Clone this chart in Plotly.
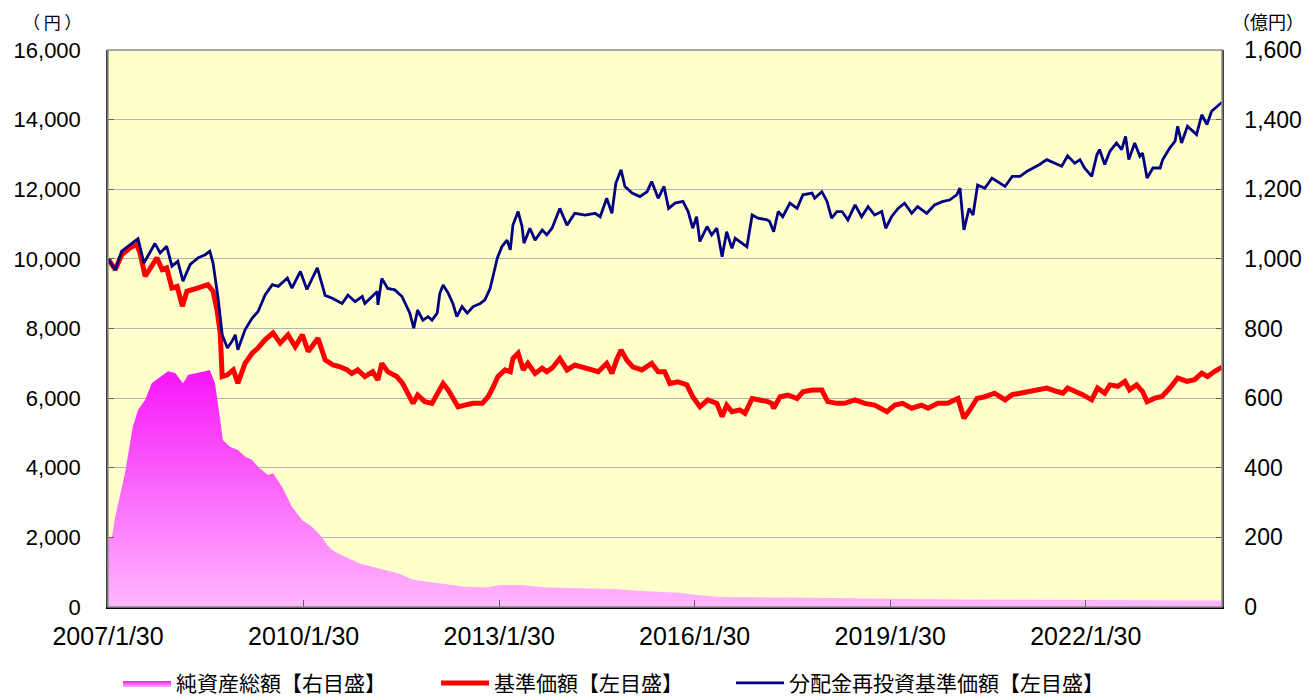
import plotly.graph_objects as go
import pandas as pd

# ---- data (dates as decimal years) ----
blue_t = [2007.08, 2007.19, 2007.29, 2007.42, 2007.54, 2007.63, 2007.69, 2007.80, 2007.88, 2007.98,
          2008.06, 2008.15, 2008.23, 2008.34, 2008.46, 2008.57, 2008.64, 2008.69, 2008.77, 2008.83,
          2008.91, 2008.98, 2009.03, 2009.07, 2009.18, 2009.29, 2009.38, 2009.49, 2009.60, 2009.69,
          2009.83, 2009.90, 2010.03, 2010.13, 2010.29, 2010.41, 2010.52, 2010.67, 2010.76, 2010.87,
          2010.98, 2011.02, 2011.13, 2011.21, 2011.22, 2011.28, 2011.37, 2011.48, 2011.59, 2011.67,
          2011.71, 2011.77, 2011.83, 2011.91, 2011.99, 2012.05, 2012.13, 2012.17, 2012.22, 2012.30,
          2012.37, 2012.43, 2012.51, 2012.59, 2012.68, 2012.79, 2012.86, 2012.94, 2012.99, 2013.05,
          2013.12, 2013.20, 2013.25, 2013.29, 2013.37, 2013.43, 2013.46, 2013.55, 2013.63, 2013.74,
          2013.81, 2013.89, 2014.01, 2014.12, 2014.24, 2014.40, 2014.55, 2014.63, 2014.73, 2014.81,
          2014.87, 2014.95, 2015.01, 2015.12, 2015.24, 2015.35, 2015.42, 2015.52, 2015.61, 2015.68,
          2015.78, 2015.90, 2015.98, 2016.05, 2016.11, 2016.16, 2016.27, 2016.34, 2016.42, 2016.50,
          2016.57, 2016.65, 2016.70, 2016.80, 2016.88, 2016.96, 2017.05, 2017.19, 2017.23, 2017.29,
          2017.36, 2017.43, 2017.54, 2017.65, 2017.74, 2017.88, 2017.92, 2018.03, 2018.11, 2018.18,
          2018.26, 2018.34, 2018.43, 2018.54, 2018.64, 2018.74, 2018.84, 2018.95, 2019.01, 2019.10,
          2019.20, 2019.30, 2019.41, 2019.50, 2019.64, 2019.76, 2019.89, 2019.99, 2020.10, 2020.15,
          2020.21, 2020.29, 2020.35, 2020.42, 2020.53, 2020.64, 2020.72, 2020.84, 2020.95, 2021.07,
          2021.18, 2021.27, 2021.37, 2021.48, 2021.60, 2021.71, 2021.80, 2021.91, 2021.99, 2022.06,
          2022.17, 2022.25, 2022.29, 2022.37, 2022.45, 2022.55, 2022.63, 2022.69, 2022.74, 2022.83,
          2022.91, 2022.95, 2023.02, 2023.11, 2023.22, 2023.26, 2023.37, 2023.45, 2023.49, 2023.55,
          2023.64, 2023.78, 2023.86, 2023.94, 2024.01, 2024.09, 2024.17]
blue_v = [10000, 9690, 10220, 10410, 10580, 9880, 10080, 10440, 10170, 10360,
          9790, 9930, 9360, 9840, 10030, 10120, 10220, 9880, 8830, 7820,
          7440, 7630, 7820, 7390, 7960, 8300, 8490, 8970, 9260, 9210,
          9450, 9160, 9640, 9120, 9740, 8950, 8870, 8720, 8960, 8770,
          8920, 8720, 8920, 9060, 8680, 9440, 9150, 9110, 8920, 8580,
          8440, 8010, 8530, 8240, 8340, 8240, 8440, 9010, 9250, 9010,
          8720, 8340, 8630, 8440, 8630, 8720, 8820, 9150, 9590, 10020,
          10350, 10540, 10260, 10970, 11360, 10930, 10450, 10880, 10540, 10830,
          10690, 10880, 11450, 10970, 11310, 11260, 11310, 11210, 11740, 11310,
          12170, 12560, 12080, 11890, 11790, 11930, 12220, 11740, 12080, 11450,
          11600, 11650, 11360, 10880, 11210, 10500, 10930, 10690, 10880, 10060,
          10780, 10300, 10590, 10450, 10350, 11260, 11170, 11120, 11070, 10780,
          11360, 11210, 11600, 11450, 11840, 11890, 11740, 11930, 11650, 11170,
          11360, 11360, 11120, 11550, 11210, 11500, 11260, 11360, 10880, 11210,
          11450, 11600, 11310, 11500, 11310, 11550, 11650, 11690, 11840, 12030,
          10830, 11450, 11260, 12120, 12030, 12320, 12230, 12080, 12370, 12370,
          12520, 12610, 12710, 12850, 12750, 12660, 12960, 12750, 12850, 12610,
          12370, 12990, 13140, 12710, 13090, 13330, 13140, 13520, 12850, 13330,
          12950, 13040, 12320, 12610, 12610, 12850, 13190, 13380, 13810, 13330,
          13810, 13570, 14140, 13860, 14240, 14380, 14500]

red_t = [2007.08, 2007.19, 2007.29, 2007.42, 2007.52, 2007.57, 2007.65, 2007.77, 2007.83, 2007.91,
         2007.98, 2008.06, 2008.14, 2008.22, 2008.29, 2008.38, 2008.52, 2008.61, 2008.69, 2008.75,
         2008.80, 2008.83, 2008.91, 2009.00, 2009.07, 2009.18, 2009.29, 2009.38, 2009.49, 2009.61,
         2009.72, 2009.84, 2009.95, 2010.06, 2010.15, 2010.30, 2010.41, 2010.53, 2010.64, 2010.75,
         2010.82, 2010.91, 2011.02, 2011.14, 2011.22, 2011.28, 2011.37, 2011.51, 2011.60, 2011.68,
         2011.76, 2011.83, 2011.94, 2012.05, 2012.14, 2012.22, 2012.30, 2012.37, 2012.45, 2012.55,
         2012.68, 2012.82, 2012.91, 2012.99, 2013.06, 2013.17, 2013.25, 2013.29, 2013.37, 2013.45,
         2013.52, 2013.63, 2013.74, 2013.81, 2013.89, 2014.01, 2014.12, 2014.24, 2014.40, 2014.60,
         2014.73, 2014.81, 2014.89, 2014.95, 2015.04, 2015.13, 2015.27, 2015.42, 2015.52, 2015.62,
         2015.70, 2015.82, 2015.96, 2016.05, 2016.16, 2016.28, 2016.42, 2016.50, 2016.57, 2016.65,
         2016.77, 2016.85, 2016.96, 2017.08, 2017.20, 2017.26, 2017.29, 2017.39, 2017.51, 2017.65,
         2017.74, 2017.88, 2018.03, 2018.12, 2018.26, 2018.38, 2018.54, 2018.69, 2018.84, 2019.03,
         2019.15, 2019.27, 2019.41, 2019.56, 2019.66, 2019.81, 2019.96, 2020.12, 2020.21, 2020.30,
         2020.41, 2020.53, 2020.68, 2020.84, 2020.95, 2021.07, 2021.22, 2021.37, 2021.48, 2021.64,
         2021.73, 2021.80, 2021.94, 2022.03, 2022.17, 2022.26, 2022.37, 2022.45, 2022.57, 2022.68,
         2022.75, 2022.86, 2022.95, 2023.02, 2023.14, 2023.25, 2023.37, 2023.49, 2023.63, 2023.75,
         2023.86, 2023.95, 2024.06, 2024.17]
red_v = [10000, 9690, 10120, 10320, 10410, 10170, 9500, 9880, 10030, 9690,
         9740, 9160, 9210, 8640, 9070, 9120, 9210, 9260, 9070, 8540,
         7870, 6620, 6670, 6810, 6430, 7000, 7290, 7440, 7680, 7870,
         7580, 7820, 7480, 7820, 7340, 7720, 7100, 6950, 6900, 6810,
         6710, 6810, 6620, 6760, 6520, 7000, 6760, 6620, 6420, 6140,
         5850, 6090, 5900, 5850, 6140, 6420, 6230, 5990, 5750, 5800,
         5850, 5850, 6040, 6330, 6620, 6810, 6760, 7140, 7290, 6810,
         7000, 6710, 6860, 6760, 6860, 7140, 6810, 6950, 6860, 6760,
         7000, 6710, 7140, 7380, 7090, 6900, 6810, 7000, 6760, 6760,
         6420, 6470, 6380, 6040, 5750, 5950, 5850, 5470, 5800, 5610,
         5660, 5560, 5990, 5950, 5900, 5850, 5710, 6040, 6090, 5990,
         6180, 6230, 6230, 5900, 5850, 5850, 5950, 5850, 5800, 5610,
         5800, 5850, 5710, 5800, 5710, 5850, 5850, 5990, 5420, 5660,
         5990, 6040, 6140, 5950, 6100, 6140, 6190, 6240, 6290, 6190,
         6140, 6290, 6190, 6100, 5950, 6290, 6140, 6380, 6340, 6480,
         6240, 6380, 6190, 5900, 6000, 6050, 6290, 6580, 6480, 6530,
         6720, 6620, 6770, 6890]

area_t = [2007.08, 2007.14, 2007.19, 2007.26, 2007.34, 2007.39, 2007.46, 2007.54, 2007.65, 2007.75,
          2007.85, 2008.00, 2008.11, 2008.23, 2008.31, 2008.46, 2008.57, 2008.64, 2008.72, 2008.80,
          2008.84, 2008.95, 2009.07, 2009.18, 2009.29, 2009.38, 2009.53, 2009.61, 2009.75, 2009.90,
          2010.06, 2010.21, 2010.36, 2010.44, 2010.52, 2010.64, 2010.95, 2011.25, 2011.53, 2011.76,
          2012.17, 2012.53, 2012.89, 2013.09, 2013.40, 2013.81, 2014.32, 2014.83, 2015.35, 2015.85,
          2016.05, 2016.47, 2017.59, 2019.12, 2020.15, 2022.08, 2024.17]
area_v = [200, 201, 259, 317, 384, 441, 518, 566, 595, 643,
          657, 677, 672, 643, 667, 672, 677, 681, 643, 537,
          480, 460, 451, 432, 422, 403, 379, 384, 345, 288,
          249, 230, 201, 178, 163, 151, 124, 110, 97, 78,
          67, 59, 56, 63, 63, 56, 54, 52, 45, 41,
          36, 29, 27, 24, 21.5, 20, 19]

tick_dates = ["2007-01-30", "2010-01-30", "2013-01-30", "2016-01-30", "2019-01-30", "2022-01-30"]
tick_text = ["2007/1/30", "2010/1/30", "2013/1/30", "2016/1/30", "2019/1/30", "2022/1/30"]
left_ticks = [0, 2000, 4000, 6000, 8000, 10000, 12000, 14000, 16000]
right_ticks = [0, 200, 400, 600, 800, 1000, 1200, 1400, 1600]


def to_date(ys):
    out = []
    for y in ys:
        yr = int(y)
        frac = y - yr
        s = pd.Timestamp(yr, 1, 1)
        e = pd.Timestamp(yr + 1, 1, 1)
        out.append(s + (e - s) * frac)
    return out


NUM_FONT = "Liberation Sans, Arial, sans-serif"
JP_FONT = "Noto Sans CJK JP, sans-serif"

fig = go.Figure()
fig.add_trace(go.Scatter(
    x=to_date(area_t), y=area_v, yaxis="y2", name="純資産総額【右目盛】",
    mode="lines", line=dict(width=0, color="#FF40FF"), fill="tozeroy",
    fillgradient=dict(type="vertical", colorscale=[[0, "#FFB8FF"], [1, "#F814F8"]]),
    legendwidth=255,
))
fig.add_trace(go.Scatter(
    x=to_date(red_t), y=red_v, name="基準価額【左目盛】",
    mode="lines", line=dict(width=5, color="#FF0000"), legendwidth=232,
))
fig.add_trace(go.Scatter(
    x=to_date(blue_t), y=blue_v, name="分配金再投資基準価額【左目盛】",
    mode="lines", line=dict(width=2.8, color="#000080"), legendwidth=320,
))

fig.update_layout(
    width=1308, height=689,
    margin=dict(l=100, r=94, t=42, b=90, autoexpand=False),
    paper_bgcolor="white", plot_bgcolor="#FFFFCC",
    showlegend=True,
    legend=dict(orientation="h", x=0.009, xanchor="left", y=-0.137, yanchor="middle",
                font=dict(family=JP_FONT, size=21, color="black"), itemwidth=48,
                bgcolor="rgba(0,0,0,0)", traceorder="normal"),
    xaxis=dict(type="date", range=[to_date([2007.079])[0], to_date([2024.17])[0]],
               tickmode="array", tickvals=tick_dates, ticktext=tick_text,
               ticks="inside", ticklen=7, tickcolor="#606060", automargin=False,
               showline=True, linecolor="#000000", linewidth=1.5,
               showgrid=False, zeroline=False, ticklabelstandoff=6,
               tickfont=dict(family=NUM_FONT, size=25, color="black")),
    yaxis=dict(range=[0, 16000], tickmode="array", tickvals=left_ticks, tickformat=",",
               ticks="inside", ticklen=6, tickcolor="#606060", automargin=False,
               showline=True, linecolor="#404040", linewidth=1.5,
               showgrid=True, gridcolor="#B4B4B4", gridwidth=1, zeroline=False,
               ticklabelstandoff=21,
               tickfont=dict(family=NUM_FONT, size=22, color="black")),
    yaxis2=dict(range=[0, 1600], overlaying="y", side="right", tickmode="array",
                tickvals=right_ticks, tickformat=",", automargin=False,
                ticks="inside", ticklen=6, tickcolor="#606060",
                showline=True, linecolor="#404040", linewidth=1.5,
                showgrid=False, zeroline=False, ticklabelstandoff=16,
                tickfont=dict(family=NUM_FONT, size=23, color="black")),
    shapes=[dict(type="rect", xref="paper", yref="paper", x0=0, y0=0, x1=1, y1=1,
                 line=dict(color="#8C8C8C", width=1.5), fillcolor="rgba(0,0,0,0)", layer="above")],
    annotations=[
        dict(text="（ 円 ）", xref="paper", yref="paper", x=-0.05, y=1.052, showarrow=False,
             xanchor="center", yanchor="middle", font=dict(family=JP_FONT, size=17, color="black")),
        dict(text="（億円）", xref="paper", yref="paper", x=1.041, y=1.052, showarrow=False,
             xanchor="center", yanchor="middle", font=dict(family=JP_FONT, size=18, color="black")),
    ],
)

fig.write_html("out.html")
